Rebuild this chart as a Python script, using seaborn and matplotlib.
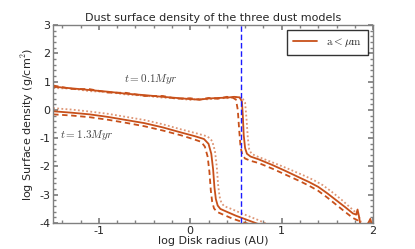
import numpy as np
import pandas as pd
import matplotlib
matplotlib.use("Agg")
import matplotlib.pyplot as plt
import seaborn as sns
from matplotlib.ticker import AutoMinorLocator

# ---- data ----
# t = 0.1 Myr
x01_solid = [-1.5, -1.3, -1.1, -0.9, -0.7, -0.5, -0.3, -0.15, 0.0, 0.1, 0.2, 0.3, 0.4, 0.48,
             0.54, 0.565, 0.575, 0.585, 0.6, 0.62, 0.66, 0.75, 0.9, 1.05, 1.2, 1.3, 1.4, 1.5,
             1.6, 1.7, 1.78, 1.815, 1.83, 1.845, 1.86, 1.88, 1.93, 1.955, 1.97, 1.985, 2.0]
y01_solid = [0.82, 0.76, 0.70, 0.64, 0.57, 0.52, 0.46, 0.42, 0.38, 0.36, 0.40, 0.42, 0.43, 0.46,
             0.44, 0.30, -0.2, -0.9, -1.35, -1.55, -1.65, -1.75, -1.95, -2.17, -2.4, -2.55, -2.72, -2.95,
             -3.2, -3.45, -3.66, -3.7, -3.52, -3.75, -4.05, -4.1, -4.08, -3.95, -3.85, -4.05, -4.1]
x01_dash = [-1.5, -1.3, -1.1, -0.9, -0.7, -0.5, -0.3, -0.15, 0.0, 0.1, 0.2, 0.3, 0.4, 0.46,
            0.5, 0.52, 0.535, 0.55, 0.57, 0.6, 0.66, 0.75, 0.9, 1.05, 1.2, 1.3, 1.4, 1.5,
            1.6, 1.7, 1.78, 1.83, 1.87]
y01_dash = [0.86, 0.74, 0.73, 0.61, 0.60, 0.49, 0.49, 0.39, 0.41, 0.36, 0.42, 0.39, 0.46, 0.44,
            0.36, 0.0, -0.7, -1.3, -1.6, -1.72, -1.8, -1.88, -2.08, -2.3, -2.52, -2.68, -2.86, -3.1,
            -3.36, -3.62, -3.82, -3.9, -4.1]
x01_dot = [-1.5, -1.3, -1.1, -0.9, -0.7, -0.5, -0.3, -0.15, 0.0, 0.1, 0.2, 0.3, 0.4, 0.5,
           0.57, 0.6, 0.615, 0.63, 0.645, 0.67, 0.72, 0.8, 0.95, 1.1, 1.25, 1.35, 1.45, 1.55,
           1.65, 1.75, 1.82, 1.85, 1.88]
y01_dot = [0.77, 0.75, 0.66, 0.63, 0.54, 0.50, 0.43, 0.41, 0.35, 0.39, 0.37, 0.42, 0.41, 0.44,
           0.42, 0.25, -0.3, -1.0, -1.4, -1.55, -1.63, -1.73, -1.92, -2.12, -2.33, -2.48, -2.66, -2.9,
           -3.16, -3.45, -3.65, -3.8, -4.1]

# t = 1.3 Myr
x13_solid = [-1.5, -1.3, -1.1, -0.9, -0.7, -0.5, -0.3, -0.1, 0.05, 0.15, 0.2, 0.23, 0.25, 0.265,
             0.28, 0.3, 0.33, 0.4, 0.5, 0.6, 0.7, 0.8]
y13_solid = [-0.05, -0.1, -0.16, -0.25, -0.36, -0.47, -0.62, -0.8, -0.93, -1.03, -1.2, -1.55, -2.1, -2.75,
             -3.15, -3.38, -3.5, -3.6, -3.74, -3.86, -3.98, -4.1]
x13_dash = [-1.5, -1.3, -1.1, -0.9, -0.7, -0.5, -0.3, -0.1, 0.03, 0.12, 0.16, 0.19, 0.21, 0.225,
            0.24, 0.26, 0.29, 0.36, 0.46, 0.56, 0.66, 0.75]
y13_dash = [-0.16, -0.2, -0.26, -0.35, -0.46, -0.58, -0.73, -0.9, -1.03, -1.13, -1.3, -1.65, -2.2, -2.85,
            -3.25, -3.48, -3.6, -3.7, -3.84, -3.95, -4.05, -4.1]
x13_dot = [-1.5, -1.3, -1.1, -0.9, -0.7, -0.5, -0.3, -0.1, 0.08, 0.19, 0.24, 0.27, 0.29, 0.305,
           0.32, 0.34, 0.37, 0.45, 0.55, 0.65, 0.75, 0.85]
y13_dot = [0.06, 0.01, -0.06, -0.14, -0.25, -0.36, -0.51, -0.69, -0.84, -0.94, -1.1, -1.45, -2.0, -2.65,
           -3.05, -3.28, -3.4, -3.5, -3.64, -3.77, -3.9, -4.05]

snow_line = 0.555
line_color = "#c8501a"

sns.set_theme(style="ticks")
plt.rcParams['font.family'] = ['DejaVu Sans']
plt.rcParams['mathtext.fontset'] = 'cm'

fig = plt.figure(figsize=(4.15, 2.49), dpi=100)
ax = fig.add_axes([0.128, 0.104, 0.771, 0.796])

series = [
    (x01_solid, y01_solid, "-", 1.0, r"$\mathrm{a} < \mu\mathrm{m}$"),
    (x01_dash, y01_dash, (0, (3, 2)), 1.0, None),
    (x01_dot, y01_dot, (0, (1, 1.3)), 0.6, None),
    (x13_solid, y13_solid, "-", 1.0, None),
    (x13_dash, y13_dash, (0, (3, 2)), 1.0, None),
    (x13_dot, y13_dot, (0, (1, 1.3)), 0.6, None),
]
for xs, ys, ls, a, lab in series:
    df = pd.DataFrame({"x": xs, "y": ys})
    sns.lineplot(data=df, x="x", y="y", ax=ax, color=line_color, linestyle=ls,
                 linewidth=1.3, alpha=a, label=lab, sort=False, legend=bool(lab))

ax.axvline(snow_line, color="#1a1aff", linestyle=(0, (4, 2)), linewidth=1.0)

ax.text(-0.43, 1.1, r"$t = 0.1 Myr$", fontsize=8, ha="center", va="center", color="#444444")
ax.text(-1.13, -0.88, r"$t = 1.3 Myr$", fontsize=8, ha="center", va="center", color="#444444")

ax.set_xlim(-1.5, 2.0)
ax.set_ylim(-4, 3)
ax.set_xticks([-1, 0, 1, 2])
ax.set_xticklabels(["-1", "0", "1", "2"])
ax.set_yticks([-4, -3, -2, -1, 0, 1, 2, 3])
ax.set_yticklabels(["-4", "-3", "-2", "-1", "0", "1", "2", "3"])
ax.xaxis.set_minor_locator(AutoMinorLocator(5))
ax.yaxis.set_minor_locator(AutoMinorLocator(5))
ax.tick_params(which="both", direction="in", top=True, right=True, color="#808080", labelsize=8, pad=2)
ax.tick_params(which="major", length=3.5)
ax.tick_params(which="minor", length=2)
for s in ax.spines.values():
    s.set_color("#808080")
    s.set_linewidth(1.0)

ax.set_title("Dust surface density of the three dust models", fontsize=8, pad=3)
ax.set_xlabel("log Disk radius (AU)", fontsize=8, labelpad=0)
ax.set_ylabel("log Surface density (g/cm$^2$)", fontsize=8, labelpad=2)

leg = ax.legend(loc="upper right", fontsize=8, frameon=True, fancybox=False,
                handlelength=2.2, borderpad=0.5)
leg.get_frame().set_edgecolor("black")
leg.get_frame().set_linewidth(1.0)

fig.savefig("out.png", dpi=100)
